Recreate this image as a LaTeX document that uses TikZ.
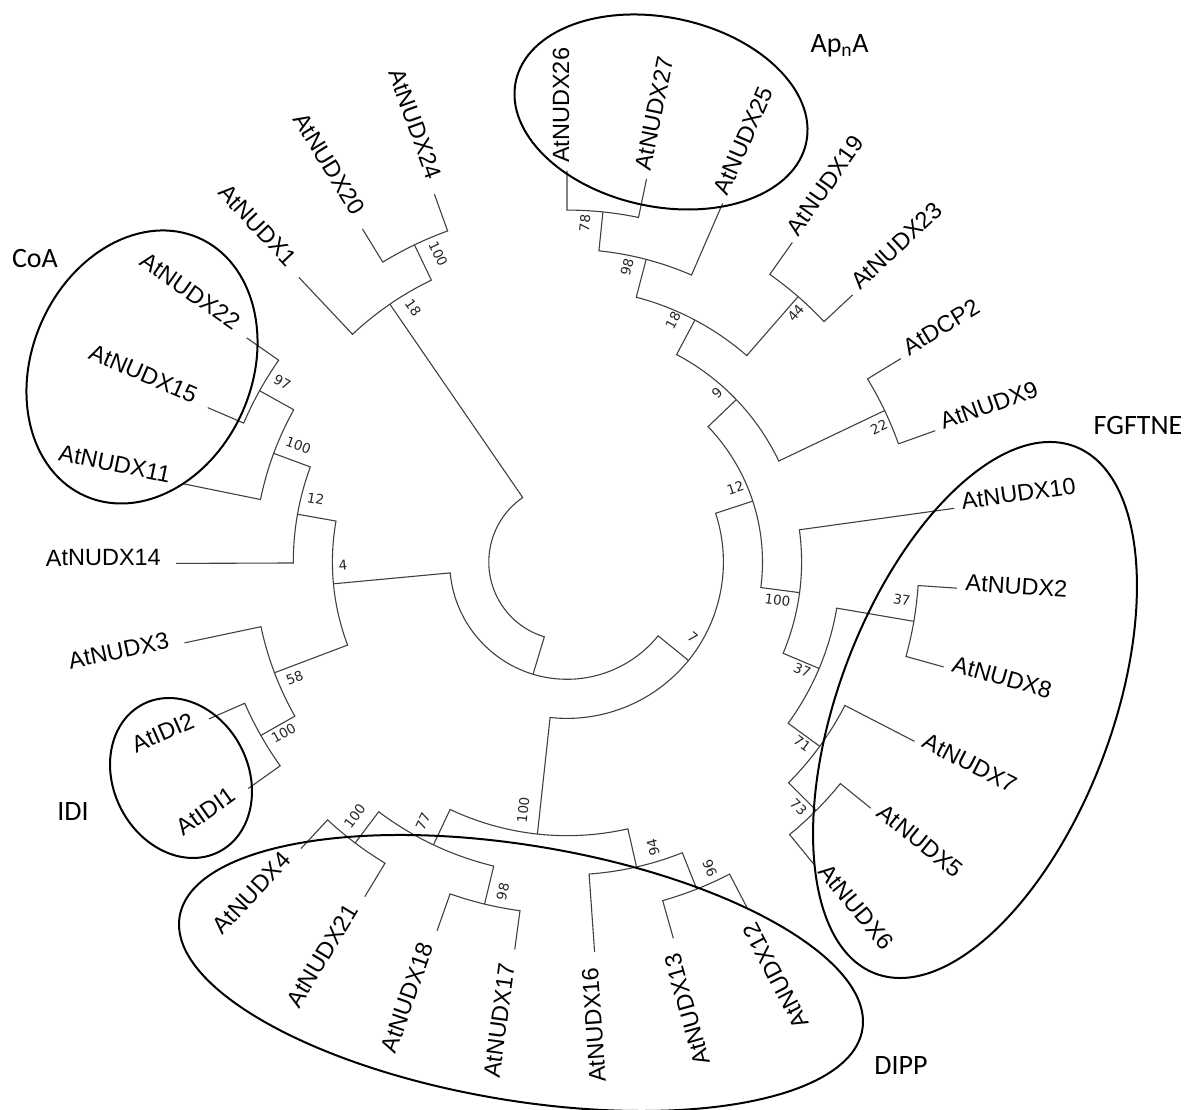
\documentclass[tikz,border=0pt]{standalone}
\usepackage{fontspec}
\newfontfamily\arialfont{Liberation Sans}
\newfontfamily\bootfont{DejaVu Sans}
\newfontfamily\califont{Carlito}

\begin{document}
\begin{tikzpicture}[x=1pt, y=1pt]

% Set the overall frame of the picture
\useasboundingbox (0,0) rectangle (1186,1110);

% Define styles for branches, taxa and support values
\tikzstyle{ramas} = [draw=black!75, line width=1.1pt]
\tikzstyle{taxonR} = [anchor=mid west, inner xsep=8pt, inner ysep=0pt, font=\arialfont\fontsize{23.5}{28}\selectfont]
\tikzstyle{taxonL} = [anchor=mid east, inner xsep=15pt, inner ysep=0pt, font=\arialfont\fontsize{23.5}{28}\selectfont]
\tikzstyle{boot} = [inner sep=0pt, text=black!85, font=\bootfont\fontsize{13.5}{16}\selectfont]

%Grupos funcionales: elipses y nombres
\tikzstyle{grupo} = [draw=black, line width=2pt]
\tikzstyle{clado} = [inner sep=0pt, font=\califont\fontsize{28}{32}\selectfont]

\begin{scope}[shift={(567,548)}]

% Taxa (tips at radius 391)
\node[taxonR, rotate=90] (l26) at (90:391) {AtNUDX26};
\node[taxonR, rotate=78.27] (l27) at (78.27:391) {AtNUDX27};
\node[taxonR, rotate=66.54] (l25) at (66.54:391) {AtNUDX25};
\node[taxonR, rotate=54.81] (l19) at (54.81:391) {AtNUDX19};
\node[taxonR, rotate=43.08] (l23) at (43.08:391) {AtNUDX23};
\node[taxonR, rotate=31.35] (lDCP2) at (31.35:391) {AtDCP2};
\node[taxonR, rotate=19.62] (l9) at (19.62:391) {AtNUDX9};
\node[taxonR, rotate=7.89] (l10) at (7.89:391) {AtNUDX10};
\node[taxonR, rotate=-3.84] (l2) at (-3.84:391) {AtNUDX2};
\node[taxonR, rotate=-15.57] (l8) at (-15.57:391) {AtNUDX8};
\node[taxonR, rotate=-27.30] (l7) at (-27.30:391) {AtNUDX7};
\node[taxonR, rotate=-39.03] (l5) at (-39.03:391) {AtNUDX5};
\node[taxonR, rotate=-50.76] (l6) at (-50.76:391) {AtNUDX6};
\node[taxonL, rotate=117.51] (l12) at (-62.49:391) {AtNUDX12};
\node[taxonL, rotate=105.78] (l13) at (-74.22:391) {AtNUDX13};
\node[taxonL, rotate=94.05] (l16) at (-85.95:391) {AtNUDX16};
\node[taxonL, rotate=82.32] (l17) at (-97.68:391) {AtNUDX17};
\node[taxonL, rotate=70.59] (l18) at (-109.41:391) {AtNUDX18};
\node[taxonL, rotate=58.86] (l21) at (-121.14:391) {AtNUDX21};
\node[taxonL, rotate=47.13] (l4) at (-132.87:391) {AtNUDX4};
\node[taxonL, rotate=35.40] (lIDI1) at (-144.60:391) {AtIDI1};
\node[taxonL, rotate=23.67] (lIDI2) at (-156.33:391) {AtIDI2};
\node[taxonL, rotate=11.94] (l3) at (-168.06:391) {AtNUDX3};
\node[taxonL, rotate=0.21] (l14) at (-179.79:391) {AtNUDX14};
\node[taxonL, rotate=-11.52] (l11) at (-191.52:391) {AtNUDX11};
\node[taxonL, rotate=-23.25] (l15) at (-203.25:391) {AtNUDX15};
\node[taxonL, rotate=-34.98] (l22) at (-214.98:391) {AtNUDX22};
\node[taxonL, rotate=-46.71] (l1) at (-226.71:391) {AtNUDX1};
\node[taxonL, rotate=-58.44] (l20) at (-238.44:391) {AtNUDX20};
\node[taxonL, rotate=-70.17] (l24) at (-250.17:391) {AtNUDX24};

% Internal nodes
\coordinate (nY) at (-106.84:117.3);
\coordinate (n7) at (-39.03:156.4);
\coordinate (n12R) at (18.15:195.5);
\coordinate (n9) at (43.81:234.6);
\coordinate (n18R) at (62.14:273.7);
\coordinate (n98) at (75.34:312.8);
\coordinate (n78) at (84.14:351.9);
\coordinate (n44) at (48.95:351.9);
\coordinate (n22) at (25.49:351.9);
\coordinate (n100R) at (-7.51:234.6);
\coordinate (n37a) at (-22.90:273.7);
\coordinate (n37b) at (-9.71:351.9);
\coordinate (n71) at (-36.10:312.8);
\coordinate (n73) at (-44.90:351.9);
\coordinate (n100D) at (-96.21:273.7);
\coordinate (n94) at (-77.15:312.8);
\coordinate (n96) at (-68.36:351.9);
\coordinate (n77) at (-115.28:312.8);
\coordinate (n98D) at (-103.55:351.9);
\coordinate (n100a) at (-127.01:351.9);
\coordinate (n4) at (-174.66:234.6);
\coordinate (n58) at (-159.26:312.8);
\coordinate (nIDI) at (-150.47:351.9);
\coordinate (n12L) at (-190.05:273.7);
\coordinate (nCoA) at (-200.32:312.8);
\coordinate (n97) at (-209.12:351.9);
\coordinate (n18) at (-235.51:312.8);
\coordinate (n2024) at (-244.31:351.9);

% Clades: child -- arc of the parent -- child
\draw[ramas] (l26.mid west) -- (90:351.9) arc[start angle=90, end angle=78.27, radius=351.9pt] -- (l27.mid west);
\draw[ramas] (n78) -- (84.14:312.8) arc[start angle=84.14, end angle=66.54, radius=312.8pt] -- (l25.mid west);
\draw[ramas] (l19.mid west) -- (54.81:351.9) arc[start angle=54.81, end angle=43.08, radius=351.9pt] -- (l23.mid west);
\draw[ramas] (n98) -- (75.34:273.7) arc[start angle=75.34, end angle=48.95, radius=273.7pt] -- (n44);
\draw[ramas] (lDCP2.mid west) -- (31.35:351.9) arc[start angle=31.35, end angle=19.62, radius=351.9pt] -- (l9.mid west);
\draw[ramas] (n18R) -- (62.14:234.6) arc[start angle=62.14, end angle=25.49, radius=234.6pt] -- (n22);
\draw[ramas] (l2.mid west) -- (-3.84:351.9) arc[start angle=-3.84, end angle=-15.57, radius=351.9pt] -- (l8.mid west);
\draw[ramas] (l5.mid west) -- (-39.03:351.9) arc[start angle=-39.03, end angle=-50.76, radius=351.9pt] -- (l6.mid west);
\draw[ramas] (l7.mid west) -- (-27.30:312.8) arc[start angle=-27.30, end angle=-44.90, radius=312.8pt] -- (n73);
\draw[ramas] (n37b) -- (-9.71:273.7) arc[start angle=-9.71, end angle=-36.10, radius=273.7pt] -- (n71);
\draw[ramas] (l10.mid west) -- (7.89:234.6) arc[start angle=7.89, end angle=-22.90, radius=234.6pt] -- (n37a);
\draw[ramas] (n9) -- (43.81:195.5) arc[start angle=43.81, end angle=-7.51, radius=195.5pt] -- (n100R);
\draw[ramas] (l12.mid east) -- (-62.49:351.9) arc[start angle=-62.49, end angle=-74.22, radius=351.9pt] -- (l13.mid east);
\draw[ramas] (n96) -- (-68.36:312.8) arc[start angle=-68.36, end angle=-85.95, radius=312.8pt] -- (l16.mid east);
\draw[ramas] (l17.mid east) -- (-97.68:351.9) arc[start angle=-97.68, end angle=-109.41, radius=351.9pt] -- (l18.mid east);
\draw[ramas] (l21.mid east) -- (-121.14:351.9) arc[start angle=-121.14, end angle=-132.87, radius=351.9pt] -- (l4.mid east);
\draw[ramas] (n98D) -- (-103.55:312.8) arc[start angle=-103.55, end angle=-127.01, radius=312.8pt] -- (n100a);
\draw[ramas] (n94) -- (-77.15:273.7) arc[start angle=-77.15, end angle=-115.28, radius=273.7pt] -- (n77);
\draw[ramas] (n12R) -- (18.15:156.4) arc[start angle=18.15, end angle=-96.21, radius=156.4pt] -- (n100D);
\draw[ramas] (lIDI1.mid east) -- (-144.60:351.9) arc[start angle=-144.60, end angle=-156.33, radius=351.9pt] -- (lIDI2.mid east);
\draw[ramas] (nIDI) -- (-150.47:312.8) arc[start angle=-150.47, end angle=-168.06, radius=312.8pt] -- (l3.mid east);
\draw[ramas] (l22.mid east) -- (-214.98:351.9) arc[start angle=-214.98, end angle=-203.25, radius=351.9pt] -- (l15.mid east);
\draw[ramas] (n97) -- (-209.12:312.8) arc[start angle=-209.12, end angle=-191.52, radius=312.8pt] -- (l11.mid east);
\draw[ramas] (nCoA) -- (-200.32:273.7) arc[start angle=-200.32, end angle=-179.79, radius=273.7pt] -- (l14.mid east);
\draw[ramas] (n12L) -- (-190.05:234.6) arc[start angle=-190.05, end angle=-159.26, radius=234.6pt] -- (n58);
\draw[ramas] (n4) -- (-174.66:117.3) arc[start angle=-174.66, end angle=-39.03, radius=117.3pt] -- (n7);
\draw[ramas] (l24.mid east) -- (-250.17:351.9) arc[start angle=-250.17, end angle=-238.44, radius=351.9pt] -- (l20.mid east);
\draw[ramas] (n2024) -- (-244.31:312.8) arc[start angle=-244.31, end angle=-226.71, radius=312.8pt] -- (l1.mid east);
\draw[ramas] (n18) -- (-235.51:78.2) arc[start angle=-235.51, end angle=-106.84, radius=78.2pt] -- (nY);

% Support values
\node[boot, rotate=84.1] (b78) at (87:339.5) {78};
\node[boot, rotate=75.3] (b98) at (78.5:301) {98};
\node[boot, rotate=62] (b18R) at (66.3:264) {18};
\node[boot, rotate=49] (b44) at (47.4:338) {44};
\node[boot, rotate=43.8] (b9) at (48.4:226) {9};
\node[boot, rotate=25.5] (b22) at (23.4:340) {22};
\node[boot, rotate=18.2] (b12R) at (23.8:184) {12};
\node[boot, rotate=-7.5] (b100R) at (-10.2:214) {100};
\node[boot, rotate=-9.7] (b37b) at (-6.5:337) {37};
\node[boot, rotate=-22.9] (b37a) at (-24.7:259) {37};
\node[boot, rotate=-36.1] (b71) at (-37.6:297) {71};
\node[boot, rotate=-44.9] (b73) at (-46.6:337) {73};
\node[boot, rotate=-39] (b7) at (-30.8:146.6) {7};
\node[boot, rotate=111.6] (b96) at (-65:338) {96};
\node[boot, rotate=102.85] (b94) at (-73.2:298) {94};
\node[boot, rotate=83.8] (b100D) at (-100:252) {100};
\node[boot, rotate=76.5] (b98D) at (-101:336) {98};
\node[boot, rotate=64.7] (b77) at (-119:297) {77};
\node[boot, rotate=53] (b100a) at (-129.9:331) {100};
\node[boot, rotate=29.5] (bIDI) at (-148.9:331) {100};
\node[boot, rotate=20.7] (b58) at (-156.9:296) {58};
\node[boot, rotate=5.3] (b4) at (-179.2:224) {4};
\node[boot, rotate=-10] (b12L) at (-194.1:259) {12};
\node[boot, rotate=-20.3] (bCoA) at (-203.5:293) {100};
\node[boot, rotate=-29.1] (b97) at (-212.3:337) {97};
\node[boot, rotate=-55.5] (b18) at (-238.8:297) {18};
\node[boot, rotate=-64.3] (b2024) at (-247.3:334) {100};

\end{scope}

% Functional groups
\draw[grupo, rotate around={-11.9:(661,998)}] (661,998) ellipse [x radius=148.4pt, y radius=94.6pt];
\draw[grupo, rotate around={66.4:(142,743)}] (142,743) ellipse [x radius=141pt, y radius=110pt];
\draw[grupo, rotate around={117.3:(181,332)}] (181,332) ellipse [x radius=83pt, y radius=67.4pt];
\draw[grupo, rotate around={-9.4:(521,137)}] (521,137) ellipse [x radius=346pt, y radius=127.6pt];
\draw[grupo, rotate around={69.3:(975,400)}] (975,400) ellipse [x radius=281.8pt, y radius=136.5pt];

\node[clado, anchor=base] (gApnA) at (839.5,1057) {Ap\textsubscript{n}A};
\node[clado] (gCoA) at (35,851) {CoA};
\node[clado] (gIDI) at (73,298) {IDI};
\node[clado] (gFGFTNE) at (1138,684) {FGFTNE};
\node[clado] (gDIPP) at (901,44) {DIPP};

\end{tikzpicture}
\end{document}
